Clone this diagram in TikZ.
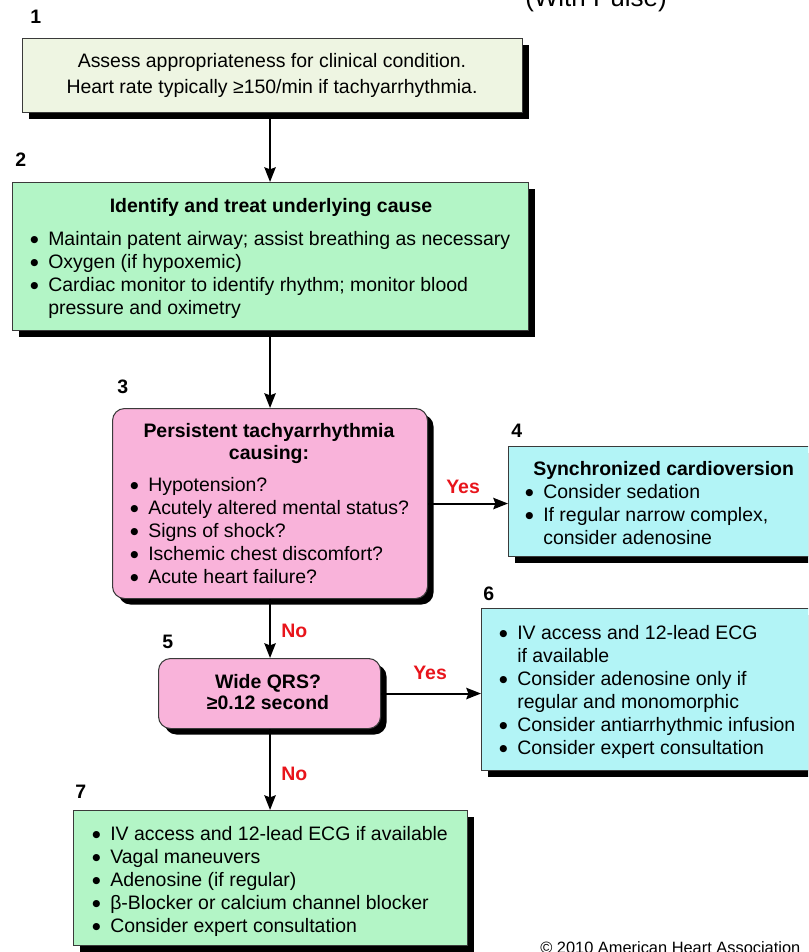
\documentclass[tikz,border=0pt]{standalone}
\usepackage{fontspec}
\setmainfont{Liberation Sans}
\newfontfamily\dejavu{DejaVu Sans}
\usetikzlibrary{shadows,arrows.meta}
\definecolor{cream}{HTML}{EEF5E2}
\definecolor{mint}{HTML}{B3F5C6}
\definecolor{pinkbox}{HTML}{F9B3DA}
\definecolor{cyanbox}{HTML}{B2F4F6}
\definecolor{ahared}{HTML}{E8141B}
\definecolor{edge}{HTML}{3A3A3A}
\newcommand{\bul}{\makebox[13.5pt][l]{\raisebox{1.6pt}{\dejavu\fontsize{7}{8}\selectfont ●}}}
\begin{document}
\begin{tikzpicture}[x=0.75pt,y=-0.75pt,
  box/.style={draw=edge, line width=0.8pt, anchor=north west, inner sep=0pt,
    drop shadow={shadow xshift=4.5pt,shadow yshift=-4.5pt,fill=black,opacity=1}},
  txt/.style={font=\fontsize{14.6}{17.25}\selectfont, inner sep=0pt},
  ttl/.style={font=\fontsize{14.6}{17.25}\selectfont\bfseries, inner sep=0pt},
  num/.style={font=\fontsize{14.6}{17}\selectfont\bfseries, inner sep=0pt, anchor=base west},
  lab/.style={font=\fontsize{14.6}{17}\selectfont\bfseries, text=ahared, inner sep=0pt, anchor=base west},
  arr/.style={line width=1.5pt, -{Stealth[length=11pt,width=8.5pt,inset=1.5pt]}},
]
\path[use as bounding box] (0,0) rectangle (808,952);
\clip (0,0) rectangle (808,952);

% title and copyright
\node[font=\fontsize{19.5}{22}\selectfont, inner sep=0pt, anchor=base west] (title) at (525,7) {(With Pulse)};
\node[font=\fontsize{12.3}{14}\selectfont, inner sep=0pt, anchor=base west] (copy) at (540,953) {© 2010 American Heart Association};

% boxes
\node[box, fill=cream, minimum width=500*0.75pt, minimum height=74*0.75pt] (b1) at (22,38) {};
\node[box, fill=mint, minimum width=516*0.75pt, minimum height=148*0.75pt] (b2) at (12,182) {};
\node[box, fill=pinkbox, rounded corners=9pt, minimum width=315*0.75pt, minimum height=190*0.75pt] (b3) at (112,408) {};
\node[box, fill=cyanbox, minimum width=320*0.75pt, minimum height=110*0.75pt] (b4) at (508,446) {};
\node[box, fill=pinkbox, rounded corners=9pt, minimum width=222*0.75pt, minimum height=70*0.75pt] (b5) at (158,658) {};
\node[box, fill=cyanbox, minimum width=350*0.75pt, minimum height=162*0.75pt] (b6) at (481,608) {};
\node[box, fill=mint, minimum width=394*0.75pt, minimum height=135*0.75pt] (b7) at (73,810) {};

% arrows
\draw[arr] (b1.south -| b3.north) -- (b2.north -| b3.north);
\draw[arr] (b2.south -| b3.north) -- (b3.north);
\draw[arr] (b3.south) -- (b5.north -| b3.south);
\draw[arr] (b5.south -| b3.south) -- (b7.north -| b3.south);
\draw[arr] (b3.east) -- (b4.west |- b3.east);
\draw[arr] (b5.east) -- (b6.west |- b5.east);

% step numbers
\node[num] (n1) at (30,24) {1};
\node[num] (n2) at (15,167) {2};
\node[num] (n3) at (117,393) {3};
\node[num] (n4) at (511,437) {4};
\node[num] (n5) at (162,648) {5};
\node[num] (n6) at (483,600) {6};
\node[num] (n7) at (75,798) {7};

% yes / no labels
\node[lab] (y1) at (446,493) {Yes};
\node[lab] (no1) at (281,637) {No};
\node[lab] (y2) at (413,679) {Yes};
\node[lab] (no2) at (281,780) {No};

% texts
\node[txt, anchor=base] (t1) at (272,68) {\begin{tabular}[t]{@{}c@{}}Assess appropriateness for clinical condition.\\[2.25pt] Heart rate typically ≥150/min if tachyarrhythmia.\end{tabular}};

\node[ttl, anchor=base] (t2h) at (271,213) {Identify and treat underlying cause};
\node[txt, anchor=base west] (t2) at (30,245) {\begin{tabular}[t]{@{}l@{}l@{}}\bul & Maintain patent airway; assist breathing as necessary\\ \bul & Oxygen (if hypoxemic)\\ \bul & Cardiac monitor to identify rhythm; monitor blood\\ & pressure and oximetry\end{tabular}};

\node[ttl, anchor=base] (t3h) at (269,437) {\begin{tabular}[t]{@{}c@{}}Persistent tachyarrhythmia\\[-0.75pt] causing:\end{tabular}};
\node[txt, anchor=base west] (t3) at (130,491) {\begin{tabular}[t]{@{}l@{}l@{}}\bul & Hypotension?\\ \bul & Acutely altered mental status?\\ \bul & Signs of shock?\\ \bul & Ischemic chest discomfort?\\ \bul & Acute heart failure?\end{tabular}};

\node[ttl, anchor=base west] (t4h) at (533,475) {Synchronized cardioversion};
\node[txt, anchor=base west] (t4) at (525,498) {\begin{tabular}[t]{@{}l@{}l@{}}\bul & Consider sedation\\ \bul & If regular narrow complex,\\ & consider adenosine\end{tabular}};

\node[ttl, anchor=base] (t5) at (268,688) {\begin{tabular}[t]{@{}c@{}}Wide QRS?\\[-1.5pt] ≥0.12 second\end{tabular}};

\node[txt, anchor=base west] (t6) at (499,639) {\begin{tabular}[t]{@{}l@{}l@{}}\bul & IV access and 12-lead ECG\\ & if available\\ \bul & Consider adenosine only if\\ & regular and monomorphic\\ \bul & Consider antiarrhythmic infusion\\ \bul & Consider expert consultation\end{tabular}};

\node[txt, anchor=base west] (t7) at (92,840) {\begin{tabular}[t]{@{}l@{}l@{}}\bul & IV access and 12-lead ECG if available\\ \bul & Vagal maneuvers\\ \bul & Adenosine (if regular)\\ \bul & β-Blocker or calcium channel blocker\\ \bul & Consider expert consultation\end{tabular}};
\end{tikzpicture}
\end{document}
